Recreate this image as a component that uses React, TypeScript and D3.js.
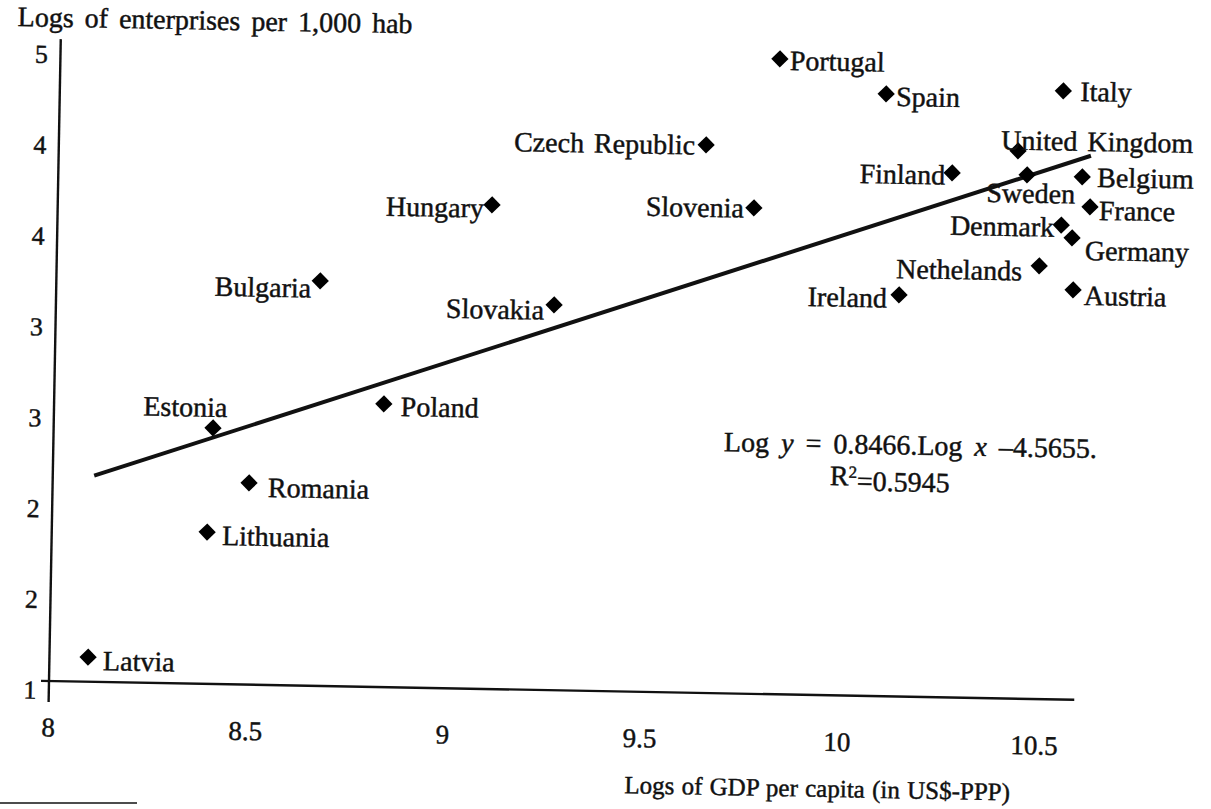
import React, { useEffect, useRef } from 'react';
import * as d3 from 'd3';

// scatter: log GDP per capita vs log enterprises per 1,000 hab
const countries = [
  'Portugal', 'Spain', 'Italy', 'Czech Republic', 'United Kingdom', 'Finland',
  'Sweden', 'Belgium', 'Hungary', 'Slovenia', 'France', 'Denmark', 'Germany',
  'Bulgaria', 'Nethelands', 'Slovakia', 'Ireland', 'Austria', 'Estonia',
  'Poland', 'Romania', 'Lithuania', 'Latvia',
];
const gdpLog = [
  9.824, 10.095, 10.544, 9.641, 10.432, 10.266,
  10.456, 10.596, 9.101, 9.765, 10.617, 10.545, 10.573,
  8.669, 10.491, 9.263, 10.137, 10.578, 8.404,
  8.836, 8.498, 8.394, 8.098,
];
const entLog = [
  4.996, 4.788, 4.828, 4.447, 4.445, 4.299,
  4.295, 4.289, 4.045, 4.056, 4.101, 3.984, 3.904,
  3.547, 3.724, 3.423, 3.526, 3.577, 2.610,
  2.781, 2.269, 1.955, 1.155,
];

const xTickValues = [8, 8.5, 9, 9.5, 10, 10.5];
const xTickLabels = ['8', '8.5', '9', '9.5', '10', '10.5'];
const yTickValues = [1, 1.571, 2.143, 2.714, 3.286, 3.857, 4.429, 5];
const yTickLabels = ['1', '2', '2', '3', '3', '4', '4', '5'];

const trendSlope = 0.8466;
const trendIntercept = -4.5655;
const trendFrom = 8.105;
const trendTo = 10.617;

const xTitle = 'Logs of GDP per capita (in US$-PPP)';
const yTitle = 'Logs of enterprises per 1,000 hab';

// label placement next to each marker: [dx, dy, anchor]
const labelPos: Record<string, [number, number, string]> = {
  'Portugal': [10, 1, 'start'],
  'Spain': [10, 2, 'start'],
  'Italy': [17, 0, 'start'],
  'Czech Republic': [-11, 0, 'end'],
  'United Kingdom': [-17, -11, 'start'],
  'Finland': [-7, 2, 'end'],
  'Sweden': [4, 18, 'middle'],
  'Belgium': [15, 0, 'start'],
  'Hungary': [-8, 3, 'end'],
  'Slovenia': [-10, 0, 'end'],
  'France': [9, 3, 'start'],
  'Denmark': [-7, 2, 'end'],
  'Germany': [13, 12, 'start'],
  'Bulgaria': [-9, 7, 'end'],
  'Nethelands': [-17, 5, 'end'],
  'Slovakia': [-10, 5, 'end'],
  'Ireland': [-12, 3, 'end'],
  'Austria': [11, 5, 'start'],
  'Estonia': [-28, -21, 'middle'],
  'Poland': [17, 2, 'start'],
  'Romania': [19, 4, 'start'],
  'Lithuania': [15, 3, 'start'],
  'Latvia': [15, 3, 'start'],
};

const W = 1211, H = 809;
const FONT = '"Liberation Serif", "Times New Roman", serif';
const INK = '#111';

export default function App() {
  const ref = useRef<SVGSVGElement>(null);

  useEffect(() => {
    const svg = d3.select(ref.current);
    svg.selectAll('*').remove();

    const x = d3.scaleLinear().domain([8, 10.6]).range([49, 49 + 2.6 * 394.4]);
    const y = d3.scaleLinear().domain([1, 5]).range([681, 45]);

    // whole page is scanned slightly tilted
    const g = svg.append('g')
      .attr('transform', 'rotate(1.05,' + x(8) + ',' + y(1) + ')')
      .style('font-family', FONT)
      .attr('fill', INK);

    // scanned print looks heavier than a plain font
    const ink = (sel: any) => sel.attr('stroke', INK).attr('stroke-width', 0.45);

    // axes
    g.append('line')
      .attr('x1', x(8) - 8).attr('x2', x(10.6))
      .attr('y1', y(1)).attr('y2', y(1))
      .attr('stroke', INK).attr('stroke-width', 2.4);
    g.append('line')
      .attr('x1', x(8)).attr('x2', x(8))
      .attr('y1', y(5) - 6).attr('y2', y(1) + 21)
      .attr('stroke', INK).attr('stroke-width', 2.4);

    // tick labels
    g.selectAll('.xt').data(xTickValues).enter().append('text')
      .attr('class', 'xt')
      .attr('x', d => x(d)).attr('y', y(1) + 46)
      .attr('dy', '0.35em')
      .attr('text-anchor', 'middle')
      .style('font-size', '27px')
      .call(ink)
      .text((d, i) => xTickLabels[i]);
    g.selectAll('.yt').data(yTickValues).enter().append('text')
      .attr('class', 'yt')
      .attr('x', x(8) - 19).attr('y', d => y(d) + 9)
      .attr('dy', '0.35em')
      .attr('text-anchor', 'middle')
      .style('font-size', '26px')
      .call(ink)
      .text((d, i) => yTickLabels[i]);

    // axis titles
    g.append('text')
      .attr('x', 203).attr('y', 17).attr('dy', '0.35em')
      .attr('text-anchor', 'middle')
      .style('font-size', '28px').style('word-spacing', '4px')
      .call(ink)
      .text(yTitle);
    g.append('text')
      .attr('x', 819).attr('y', 774).attr('dy', '0.35em')
      .attr('text-anchor', 'middle')
      .style('font-size', '25px').style('word-spacing', '1px')
      .call(ink)
      .text(xTitle);

    // trend line
    const line = d3.line<number>()
      .x(d => x(d))
      .y(d => y(trendSlope * d + trendIntercept));
    g.append('path')
      .datum([trendFrom, trendTo])
      .attr('d', line)
      .attr('fill', 'none')
      .attr('stroke', INK)
      .attr('stroke-width', 4);

    // equation
    const eq = g.append('text')
      .attr('x', 906).attr('y', 429).attr('dy', '0.35em')
      .attr('text-anchor', 'middle')
      .style('font-size', '28px').style('word-spacing', '5px')
      .call(ink);
    eq.append('tspan').text('Log ');
    eq.append('tspan').style('font-style', 'italic').text('y');
    eq.append('tspan').text(' = ' + trendSlope + '.Log ');
    eq.append('tspan').style('font-style', 'italic').text('x');
    eq.append('tspan').text(' \u2013' + Math.abs(trendIntercept) + '.');

    const r2 = g.append('text')
      .attr('x', 886).attr('y', 461).attr('dy', '0.35em')
      .attr('text-anchor', 'middle')
      .style('font-size', '28px')
      .call(ink);
    r2.append('tspan').text('R');
    r2.append('tspan').attr('dy', '-0.45em').style('font-size', '17px').text('2');
    r2.append('tspan').attr('dy', '0.45em').text('=0.5945');

    // markers
    const symType = (d3 as any).symbolDiamond2 || d3.symbolSquare;
    const sym = d3.symbol().type(symType).size(symType === d3.symbolSquare ? 150 : 190);
    const pts = countries.map((c, i) => ({ name: c, gx: gdpLog[i], ey: entLog[i] }));

    g.selectAll('.pt').data(pts).enter().append('path')
      .attr('class', 'pt')
      .attr('d', sym)
      .attr('transform', d => 'translate(' + x(d.gx) + ',' + y(d.ey) + ')' +
        (symType === d3.symbolSquare ? ' rotate(45)' : ''))
      .attr('fill', '#000');

    g.selectAll('.lbl').data(pts).enter().append('text')
      .attr('class', 'lbl')
      .attr('x', d => x(d.gx) + labelPos[d.name][0])
      .attr('y', d => y(d.ey) + labelPos[d.name][1])
      .attr('dy', '0.35em')
      .attr('text-anchor', d => labelPos[d.name][2])
      .style('font-size', '28px')
      .style('word-spacing', '3px')
      .call(ink)
      .text(d => d.name);

    // footnote rule of the printed page
    svg.append('line')
      .attr('x1', 0).attr('x2', 137)
      .attr('y1', 803).attr('y2', 803)
      .attr('stroke', INK).attr('stroke-width', 1.5);
  }, []);

  return (
    <svg ref={ref} width={W} height={H}
      style={{ position: 'absolute', left: 0, top: 0, background: '#fff' }} />
  );
}
